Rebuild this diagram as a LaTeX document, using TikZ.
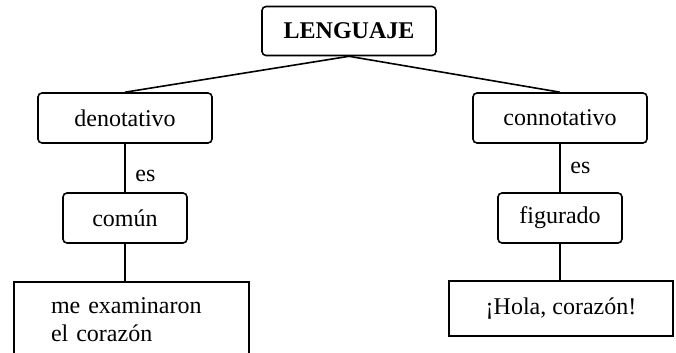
\documentclass[tikz,border=0pt]{standalone}
\usepackage{fontspec}
\setmainfont{Liberation Serif}
\usepackage{tikz}
\usetikzlibrary{shapes,arrows,arrows.meta}
\usetikzlibrary{positioning}
\tikzstyle{root} = [rectangle, draw, rounded corners=2pt, line width=0.8pt,
    font=\fontsize{12}{14}\selectfont\bfseries, minimum width=87pt, minimum height=24.5pt]
\tikzstyle{block} = [rectangle, draw, rounded corners=2pt, line width=0.8pt,
    minimum width=87pt, minimum height=25pt]
\tikzstyle{small} = [block, minimum width=62pt]
\tikzstyle{example} = [rectangle, draw, line width=0.8pt]
\tikzstyle{link} = [draw, line width=0.8pt]

\begin{document}
\begin{tikzpicture}[every node/.style={font=\fontsize{12}{14}\selectfont}]
    \useasboundingbox (0,0) rectangle (338pt,-176.5pt);
    % Place nodes
    \node [root] (lang) at (174.5pt,-15.5pt) {LENGUAJE};
    \node [block] (deno) at (62.5pt,-59pt) {denotativo};
    \node [block] (conno) at (280pt,-59pt) {connotativo};
    \node [small, below of=deno, node distance=50pt] (comun) {común};
    \node [small, below of=conno, node distance=50pt] (figur) {figurado};
    \node [example, below of=comun, node distance=31.5pt, anchor=north, xshift=3.25pt,
        text width=80.5pt, inner xsep=18.5pt, inner ysep=8pt, align=left] (ejdeno)
        {me examinaron\\el corazón};
    \node [example, below of=figur, node distance=45.25pt, xshift=0.5pt,
        minimum width=112pt, minimum height=27.5pt] (ejconno) {¡Hola, corazón!};
    % Draw edges
    \path [link] (lang.south) -- (deno.north);
    \path [link] (lang.south) -- (conno.north);
    \path [link] (deno) -- node [right, pos=0.66, xshift=1.5pt] {es} (comun);
    \path [link] (conno) -- node [right, pos=0.5, xshift=1.5pt] {es} (figur);
    \path [link] (comun.south) -- (comun.south |- ejdeno.north);
    \path [link] (figur.south) -- (figur.south |- ejconno.north);
\end{tikzpicture}
\end{document}
